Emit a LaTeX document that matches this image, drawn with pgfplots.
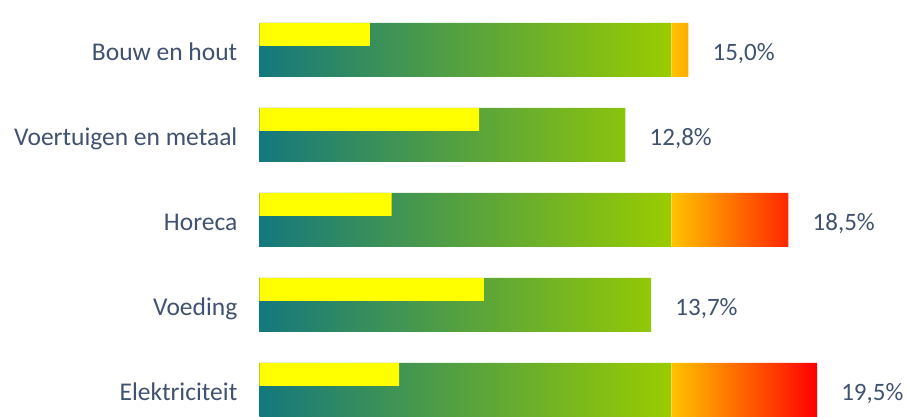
\documentclass[border=0pt]{standalone}
\usepackage{fontspec}
\setmainfont{Carlito}
\usepackage{pgfplots}
\pgfplotsset{compat=1.18}

\definecolor{tealstart}{RGB}{20,120,125}
\definecolor{limeend}{RGB}{153,204,0}
\definecolor{amberstart}{RGB}{255,195,0}
\definecolor{redend}{RGB}{255,0,0}
\definecolor{labelgray}{RGB}{64,82,112}
\definecolor{baryellow}{RGB}{255,255,0}

\begin{document}
\begin{tikzpicture}
\useasboundingbox (0,0) rectangle (908pt,416pt);

\pgfplotsset{
    basebars/.style={
        scale only axis, width=648.5pt, height=416pt,
        at={(259.5pt,0pt)}, anchor=south west,
        ymin=-0.306, ymax=4.588,
        axis line style={draw=none}, major tick length=0pt,
        xtick=\empty, clip=false,
    },
}

% green part, yellow part and labels
\begin{axis}[basebars,
    xmin=0, xmax=22.68,
    ytick={0,1,2,3,4},
    yticklabels={Elektriciteit, Voeding, Horeca, Voertuigen en metaal, Bouw en hout},
    yticklabel style={font=\fontsize{25.5}{30}\selectfont, text=labelgray,
        inner sep=0pt, anchor=base east, xshift=-22pt, yshift=-10.5pt},
]
    \addplot [xbar, bar width=54pt, draw=none, left color=tealstart, right color=limeend]
        coordinates {(14.4,4) (12.8,3) (14.4,2) (13.7,1) (14.4,0)};
    \addplot [xbar, bar width=23pt, bar shift=15.5pt, draw=none, fill=baryellow]
        coordinates {(3.86,4) (7.68,3) (4.62,2) (7.85,1) (4.88,0)};
    \addplot [draw=none, nodes near coords, point meta=explicit symbolic,
        nodes near coords style={font=\fontsize{25}{30}\selectfont, text=labelgray,
            inner sep=0pt, anchor=base west, xshift=24pt, yshift=-10.5pt}]
        coordinates {(15.0,4) [15,0\%] (12.8,3) [12,8\%] (18.5,2) [18,5\%]
                     (13.7,1) [13,7\%] (19.5,0) [19,5\%]};
\end{axis}

% part above the threshold (x = 0 here is 14.4 in the axis above)
\begin{axis}[basebars, xmin=-14.4, xmax=8.28, ytick=\empty]
    \addplot [xbar, bar width=54pt, draw=none, left color=amberstart, right color=redend]
        coordinates {(0.6,4) (4.1,2) (5.1,0)};
\end{axis}
\end{tikzpicture}
\end{document}
